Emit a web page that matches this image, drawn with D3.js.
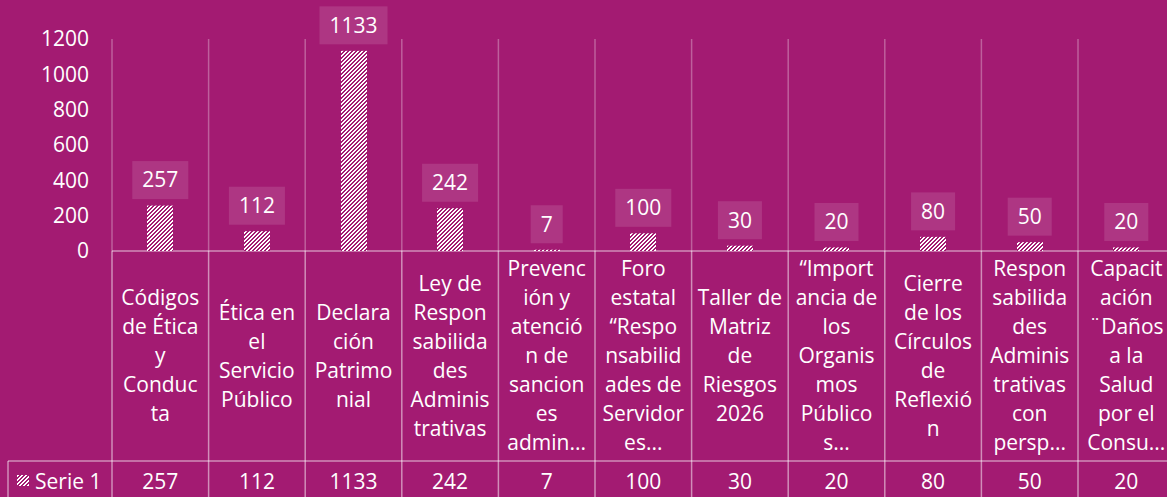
<!DOCTYPE html>
<html>
<head>
<meta charset="utf-8">
<script src="https://cdn.jsdelivr.net/npm/d3@7"></script>
<style>
  html, body { margin: 0; padding: 0; background: #A31B72; overflow: hidden; }
  svg { display: block; }
  text { font-family: "Open Sans", sans-serif; fill: #ffffff; }
</style>
</head>
<body>
<svg id="chart" width="1167" height="497"></svg>
<script>
// ---- data ----
const categoryLines = [
  ["Códigos", "de Ética", "y", "Conduc", "ta"],
  ["Ética en", "el", "Servicio", "Público"],
  ["Declara", "ción", "Patrimo", "nial"],
  ["Ley de", "Respon", "sabilida", "des", "Adminis", "trativas"],
  ["Prevenc", "ión y", "atenció", "n de", "sancion", "es", "admin..."],
  ["Foro", "estatal", "“Respo", "nsabilid", "ades de", "Servidor", "es..."],
  ["Taller de", "Matriz", "de", "Riesgos", "2026"],
  ["“Import", "ancia de", "los", "Organis", "mos", "Público", "s..."],
  ["Cierre", "de los", "Círculos", "de", "Reflexió", "n"],
  ["Respon", "sabilida", "des", "Adminis", "trativas", "con", "persp..."],
  ["Capacit", "ación", "¨Daños", "a la", "Salud", "por el", "Consu..."]
];
const seriesName = "Serie 1";
const values = [257, 112, 1133, 242, 7, 100, 30, 20, 80, 50, 20];
const yTicks = [0, 200, 400, 600, 800, 1000, 1200];

// ---- layout ----
const W = 1167, H = 497;
const plotLeft = 112, catW = 96.6;
const plotTop = 39, plotBottom = 251;
const tableTop = 461, tableLeft = 8;
const fontSize = 21;
const lineH = 29;
const bg = "#A31B72";

const svg = d3.select("#chart");

const defs = svg.append("defs");
const pat = defs.append("pattern")
  .attr("id", "hatch")
  .attr("patternUnits", "userSpaceOnUse")
  .attr("width", 4).attr("height", 4);
pat.append("rect").attr("width", 4).attr("height", 4).attr("fill", "#ffffff");
// pixel stair-step upward diagonal (2px wide stripes)
const hatchPix = [[2,0],[3,0],[1,1],[2,1],[0,2],[1,2],[3,3],[0,3]];
pat.selectAll("rect.p").data(hatchPix).join("rect").attr("class", "p")
  .attr("x", d => d[0]).attr("y", d => d[1]).attr("width", 1).attr("height", 1)
  .attr("fill", bg).attr("shape-rendering", "crispEdges");

const x = d3.scaleBand()
  .domain(d3.range(values.length))
  .range([plotLeft, plotLeft + catW * values.length])
  .paddingInner(0).paddingOuter(0);

const y = d3.scaleLinear().domain([0, 1200]).range([plotBottom, plotTop]);

// vertical gridlines (plot area)
const bounds = d3.range(values.length + 1).map(i => plotLeft + i * catW);
svg.append("g").selectAll("line").data(bounds).join("line")
  .attr("x1", d => d).attr("x2", d => d)
  .attr("y1", plotTop).attr("y2", plotBottom)
  .attr("stroke", "rgba(255,255,255,0.3)").attr("stroke-width", 1.5);

// table lines
const tl = svg.append("g").attr("stroke", "rgba(255,255,255,0.5)").attr("stroke-width", 1.5);
tl.selectAll("line.v").data(bounds).join("line").attr("class", "v")
  .attr("x1", d => d).attr("x2", d => d)
  .attr("y1", plotBottom).attr("y2", H + 2);
tl.append("line").attr("x1", plotLeft).attr("x2", W + 10).attr("y1", plotBottom).attr("y2", plotBottom);
tl.append("line").attr("x1", tableLeft).attr("x2", W + 10).attr("y1", tableTop).attr("y2", tableTop);
tl.append("line").attr("x1", tableLeft).attr("x2", tableLeft).attr("y1", tableTop).attr("y2", H + 2);

// y axis
const yAxis = d3.axisLeft(y).tickValues(yTicks).tickSize(0).tickPadding(23).tickFormat(d3.format("d"));
const ya = svg.append("g").attr("transform", `translate(${plotLeft},0)`).call(yAxis);
ya.select(".domain").remove();
ya.selectAll("text")
  .attr("fill", "#ffffff")
  .style("font-family", "'Open Sans', sans-serif")
  .style("font-size", fontSize + "px");

// bars
const barW = 26;
svg.append("g").selectAll("rect").data(values).join("rect")
  .attr("x", (d, i) => Math.round(x(i) + x.bandwidth() / 2 - barW / 2))
  .attr("width", barW)
  .attr("y", d => y(d))
  .attr("height", d => y(0) - y(d))
  .attr("fill", "url(#hatch)");

// data labels
const lbl = svg.append("g").selectAll("g").data(values).join("g")
  .attr("transform", (d, i) => `translate(${x(i) + x.bandwidth() / 2},${y(d) - 6.5 - 19})`);
lbl.append("text")
  .attr("text-anchor", "middle").attr("dy", "0.35em")
  .style("font-size", fontSize + "px")
  .text(d => d)
  .each(function () {
    const bb = this.getBBox();
    d3.select(this.parentNode).insert("rect", "text")
      .attr("x", -bb.width / 2 - 10).attr("y", -19)
      .attr("width", bb.width + 20).attr("height", 38)
      .attr("fill", "rgba(255,255,255,0.12)");
  });

// category labels
const catMid = (plotBottom + tableTop) / 2;
const cg = svg.append("g").selectAll("text").data(categoryLines).join("text")
  .attr("text-anchor", "middle")
  .style("font-size", fontSize + "px");
cg.each(function (lines, i) {
  const t = d3.select(this);
  const cx = x(i) + x.bandwidth() / 2;
  const start = catMid - (lines.length - 1) * lineH / 2;
  lines.forEach((ln, j) => {
    t.append("tspan").attr("x", cx).attr("y", start + j * lineH).attr("dy", "0.35em").text(ln);
  });
});

// table row
const rowY = 482;
svg.append("rect").attr("x", 17).attr("y", 475).attr("width", 12).attr("height", 11).attr("fill", "url(#hatch)");
svg.append("text").attr("x", 35).attr("y", rowY).attr("dy", "0.35em")
  .style("font-size", fontSize + "px").text(seriesName);
svg.append("g").selectAll("text").data(values).join("text")
  .attr("x", (d, i) => x(i) + x.bandwidth() / 2)
  .attr("y", rowY).attr("dy", "0.35em")
  .attr("text-anchor", "middle")
  .style("font-size", fontSize + "px")
  .text(d => d);
</script>
</body>
</html>
